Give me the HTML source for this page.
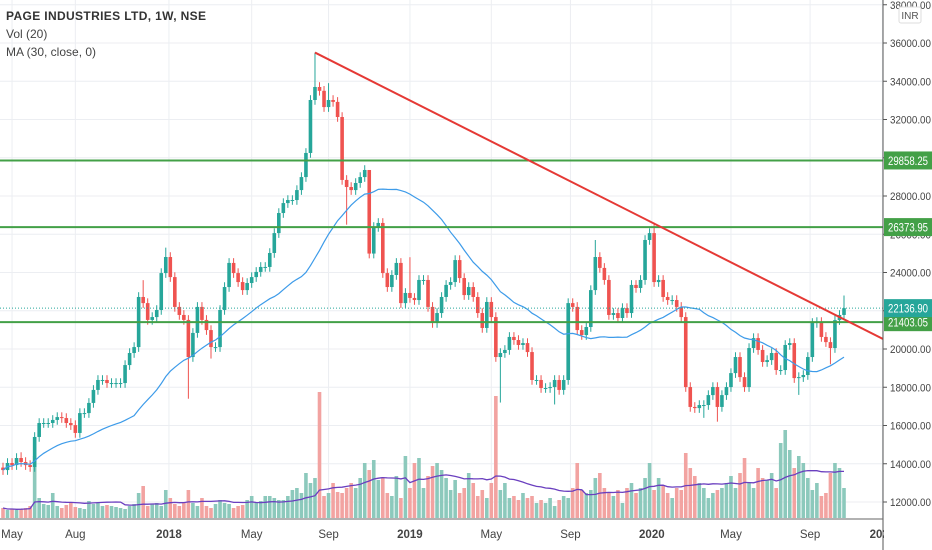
<!DOCTYPE html>
<html><head><meta charset="utf-8"><style>
html,body{margin:0;padding:0;background:#fff;}
svg{display:block;font-family:"Liberation Sans",sans-serif;}
</style></head><body>
<svg id="chart" width="932" height="550">
<g id="grid"></g>
<g id="vol"></g>
<g id="candles"></g>
<g id="over"></g>
<g id="axis"></g>
<g id="legend">
<text x="6" y="20" font-size="12" fill="#333" font-weight="bold" textLength="200">PAGE INDUSTRIES LTD, 1W, NSE</text>
<text x="6" y="38" font-size="12" fill="#444">Vol (20)</text>
<text x="6" y="56" font-size="12" fill="#444">MA (30, close, 0)</text>
</g>
</svg>
<script>
const closes=[13670,14040,13930,14300,14090,13930,13830,15400,16130,16130,
16130,16290,16440,16390,16130,16020,15610,16650,16650,17180,
17860,18380,18380,18220,18220,18220,18220,19160,19790,20100,
22720,22400,21520,21670,22040,23970,24810,23760,22200,21780,
21520,19580,20840,22200,21520,20990,20100,20100,22040,23240,
24500,23970,23500,23080,23450,23760,24030,24290,24290,25020,
26060,27110,27630,27790,27790,28310,28990,30250,33020,33700,
33500,32650,33020,32920,32130,28840,28470,28310,28680,28990,
29360,24990,26380,26590,23970,23240,23870,24500,22400,22930,
22670,22560,23610,23610,22200,21360,21880,22720,23350,23500,
24650,23710,22820,23240,22720,21880,21100,22460,21670,19580,
19790,19950,20630,20470,20210,20310,19840,18380,18380,17960,
17960,18010,18380,17860,18380,22400,22200,20990,20730,21150,
23080,24810,24240,23610,21780,21880,21620,22140,21880,23350,
23190,23610,25700,26060,23500,23610,22720,22560,22560,22200,
21670,18010,16970,16910,17070,17070,17590,18010,16970,17590,
18010,18740,19580,18530,18010,20050,20570,19950,19320,19420,
19790,18900,18900,20210,20310,18480,18530,18640,19580,21360,
21410,20630,20360,20050,21510,21780,22137];
const firstOpen=13800;
const volumes=[10,8,9,8,9,10,12,62,20,14,
13,25,12,10,13,15,11,10,9,17,
14,15,12,13,12,11,10,9,12,14,
25,32,12,14,15,12,28,20,14,12,
16,28,15,12,20,12,10,14,18,15,
14,10,12,13,18,22,15,17,22,22,
20,18,18,22,28,30,25,45,35,40,
126,22,25,35,26,25,30,35,30,40,
55,48,58,38,40,25,22,42,20,62,
30,55,60,30,42,52,55,48,40,28,
38,25,30,45,35,22,28,20,35,122,
28,35,20,22,18,25,20,22,15,18,
15,20,12,18,22,20,30,55,28,25,
28,40,45,30,25,22,28,15,30,35,
25,30,40,55,28,40,32,25,20,30,
28,65,50,42,35,30,20,25,28,30,
35,42,30,45,60,35,30,50,40,38,
45,30,75,88,68,50,62,55,40,28,
35,22,25,45,55,50,30];
const bigHighs={69:35500,72:33900,31:23600,36:25300,81:27200,90:24800,131:25700,144:26600,186:22800,4:14600};
const bigLows={41:17400,46:19500,76:26500,110:17200,122:17100,155:16400,158:16200,176:17600,183:19200};
const tickLabels=["May","Aug","2018","May","Sep","2019","May","Sep","2020","May","Sep","2021"];
const tickIdx=[2,16,36.7,55,72,90,108,125.5,143.5,161,178.5,194.5];
const priceTicks=[38000,36000,34000,32000,30000,28000,26000,24000,22000,20000,18000,16000,14000,12000];
const levels=[29858.25,26373.95,21403.05];
const lastPrice=22136.90;
const trendStart=[69,35500], trendEnd=[196.5,20300];

const NS="http://www.w3.org/2000/svg";
const X0=3,X1=844,PR=883,VB=518;
const n=closes.length, step=(X1-X0)/(n-1);
const xs=i=>X0+i*step;
const ys=p=>43+(36000-p)*0.019125;
const vs=v=>v*1.0;
function mk(tag,attrs,parent){const e=document.createElementNS(NS,tag);for(const k in attrs)e.setAttribute(k,attrs[k]);parent.appendChild(e);return e;}
const G=id=>document.getElementById(id);
const grid=G('grid'),vol=G('vol'),cg=G('candles'),ov=G('over'),ax=G('axis');

priceTicks.forEach(p=>{const l=mk('line',{x1:0,x2:PR,y1:ys(p),y2:ys(p),stroke:'#eceef2','stroke-width':1},grid);

});

let prev=firstOpen;
closes.forEach((c,i)=>{const o=prev;prev=c;const up=c>=o;const x=xs(i);
const col=up?'#26a69a':'#ef5350';
const vb=mk('rect',{x:x-1.8,y:VB-vs(volumes[i]),width:3.6,height:vs(volumes[i]),fill:up?'#8cc9bc':'#f2a3a1'},vol);


const hi=bigHighs[i]!==undefined?bigHighs[i]:Math.max(o,c)+250;
const lo=bigLows[i]!==undefined?bigLows[i]:Math.min(o,c)-250;
const w=mk('line',{x1:x,x2:x,y1:ys(hi),y2:ys(lo),stroke:col,'stroke-width':1},cg);


const top=ys(Math.max(o,c)),bh=Math.max(1,ys(Math.min(o,c))-top);
const b=mk('rect',{x:x-1.8,y:top,width:3.6,height:bh,fill:col},cg);

});

let vp='';volumes.forEach((v,i)=>{const s=volumes.slice(Math.max(0,i-19),i+1);const m=s.reduce((a,b)=>a+b,0)/s.length;vp+=(i?'L':'M')+xs(i).toFixed(1)+','+(VB-vs(m)).toFixed(1);});
const vm=mk('path',{d:vp,fill:'none',stroke:'#6a3fbf','stroke-width':1.3},ov);



let mp='';closes.forEach((c,i)=>{const s=closes.slice(Math.max(0,i-29),i+1);const m=s.reduce((a,b)=>a+b,0)/s.length;mp+=(i?'L':'M')+xs(i).toFixed(1)+','+ys(m).toFixed(1);});
const ma=mk('path',{d:mp,fill:'none',stroke:'#3d9be9','stroke-width':1.2},ov);



levels.forEach(p=>{const l=mk('line',{x1:0,x2:PR,y1:ys(p),y2:ys(p),stroke:'#43a047','stroke-width':2},ov);

});
const dl=mk('line',{x1:0,x2:PR,y1:ys(lastPrice),y2:ys(lastPrice),stroke:'#26a69a','stroke-width':1,'stroke-dasharray':'1,2'},ov);



const tl=mk('line',{x1:xs(trendStart[0]),y1:ys(trendStart[1]),x2:xs(trendEnd[0]),y2:ys(trendEnd[1]),stroke:'#e53935','stroke-width':2},ov);



const cover=mk('rect',{x:PR,y:0,width:932-PR,height:550,fill:'#fff'},ax);



tickIdx.forEach((t,k)=>{const x=xs(t);
const l=mk('line',{x1:x,x2:x,y1:0,y2:VB,stroke:'#eceef2','stroke-width':1},grid);


const tx=mk('text',{x:x,y:538,'font-size':11.5,fill:'#444','text-anchor':'middle','font-weight':/^\d/.test(tickLabels[k])?'bold':'normal'},ax);tx.textContent=tickLabels[k];

});
const cover2=mk('rect',{x:PR+1,y:520,width:932-PR,height:30,fill:'#fff'},ax);



const al=mk('line',{x1:PR,x2:PR,y1:0,y2:550,stroke:'#555','stroke-width':1},ax);


const bl=mk('line',{x1:0,x2:PR,y1:VB+1,y2:VB+1,stroke:'#666','stroke-width':1},ax);


priceTicks.forEach(p=>{const y=ys(p);
const t=mk('line',{x1:PR,x2:PR+4,y1:y,y2:y,stroke:'#555'},ax);


const tx=mk('text',{x:PR+7,y:y+4,'font-size':11,fill:'#444',textLength:41,lengthAdjust:'spacingAndGlyphs'},ax);tx.textContent=p.toFixed(2);

});
const inr=mk('rect',{x:899,y:7,width:22,height:16,fill:'#fff',stroke:'#ddd',rx:2},ax);


const it=mk('text',{x:910,y:19,'font-size':10,fill:'#555','text-anchor':'middle'},ax);it.textContent='INR';


function badge(p,col,name){const y=ys(p);
const r=mk('rect',{x:PR+1,y:y-9,width:932-PR-1,height:18,fill:col},ax);


const t=mk('text',{x:PR+5,y:y+4.5,'font-size':11.5,fill:'#fff',textLength:40,lengthAdjust:'spacingAndGlyphs'},ax);t.textContent=p.toFixed(2);

}
levels.forEach(p=>badge(p,'#43a047','level-price-badge'));
badge(lastPrice,'#26a69a','last-price-badge');
</script>
</body></html>
